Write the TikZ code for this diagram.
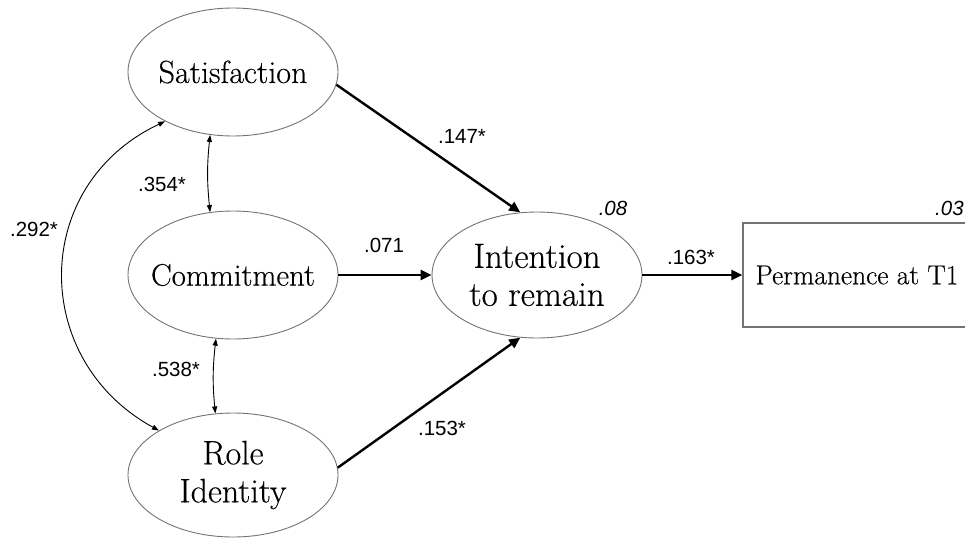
\documentclass[tikz,border=0pt]{standalone}
\usepackage{fontspec}
\newfontfamily\numfont{Liberation Sans}
\newfontfamily\labelfont{Latin Modern Roman}[FakeBold=0.35]
\usetikzlibrary{shapes.geometric,arrows.meta}

\tikzset{
  latent/.style={ellipse, draw=black!55, line width=0.9pt, minimum width=210pt,
    minimum height=128pt, inner xsep=-15pt, inner ysep=0pt, align=center},
  observed/.style={rectangle, draw=black!55, line width=1.2pt, minimum width=228pt,
    minimum height=104pt, inner sep=0pt},
  path/.style={line width=2.4pt, -{Triangle[length=11pt,width=10pt]}},
  cov/.style={line width=0.9pt, {Triangle[length=7pt,width=5pt]}-{Triangle[length=7pt,width=5pt]}},
  coef/.style={font=\numfont\fontsize{20.5}{22}\selectfont, inner sep=0pt},
  rsq/.style={font=\numfont\itshape\fontsize{20.5}{22}\selectfont, inner sep=0pt},
}

\begin{document}
\begin{tikzpicture}[x=1pt, y=-1pt]
\useasboundingbox (0,0) rectangle (965,538);

% latent factors
\node[latent, font=\labelfont\fontsize{32}{38}\selectfont] (sat) at (233,72) {Satisfaction};
\node[latent, font=\labelfont\fontsize{31}{38}\selectfont] (com) at (233,275) {Commitment};
\node[latent, minimum height=124pt, font=\labelfont\fontsize{34}{38}\selectfont] (role) at (233,475) {Role\\Identity};
\node[latent, minimum height=126pt, font=\labelfont\fontsize{35}{38}\selectfont] (int) at (537,275) {Intention\\to remain};

% observed outcome
\node[observed, font=\labelfont\fontsize{27.5}{30}\selectfont] (perm) at (857,275) {Permanence at T1};

% explained variance
\node[rsq] (r2int) at (613,208) {.08};
\node[rsq, anchor=west] (r2perm) at (935,208) {.03};

% structural paths
\draw[path] (sat.353) -- (int.105);
\draw[path] (com.east) -- (int.west);
\draw[path] (role.4) -- (int.255);
\draw[path] (int.east) -- (perm.west);

% covariances
\draw[cov] (sat.250) to[bend right=6] (com.110);
\draw[cov] (com.255) to[bend right=6] (role.106);
\draw[cov] (sat.216) .. controls (30,185) and (30,360) .. (role.149);

% coefficients
\node[coef] (c1) at (462,136) {.147*};
\node[coef] (c2) at (384,245) {.071};
\node[coef] (c3) at (442,428) {.153*};
\node[coef] (c4) at (691,257) {.163*};
\node[coef] (c5) at (162,184) {.354*};
\node[coef] (c6) at (176,369) {.538*};
\node[coef] (c7) at (34,229) {.292*};
\end{tikzpicture}
\end{document}
